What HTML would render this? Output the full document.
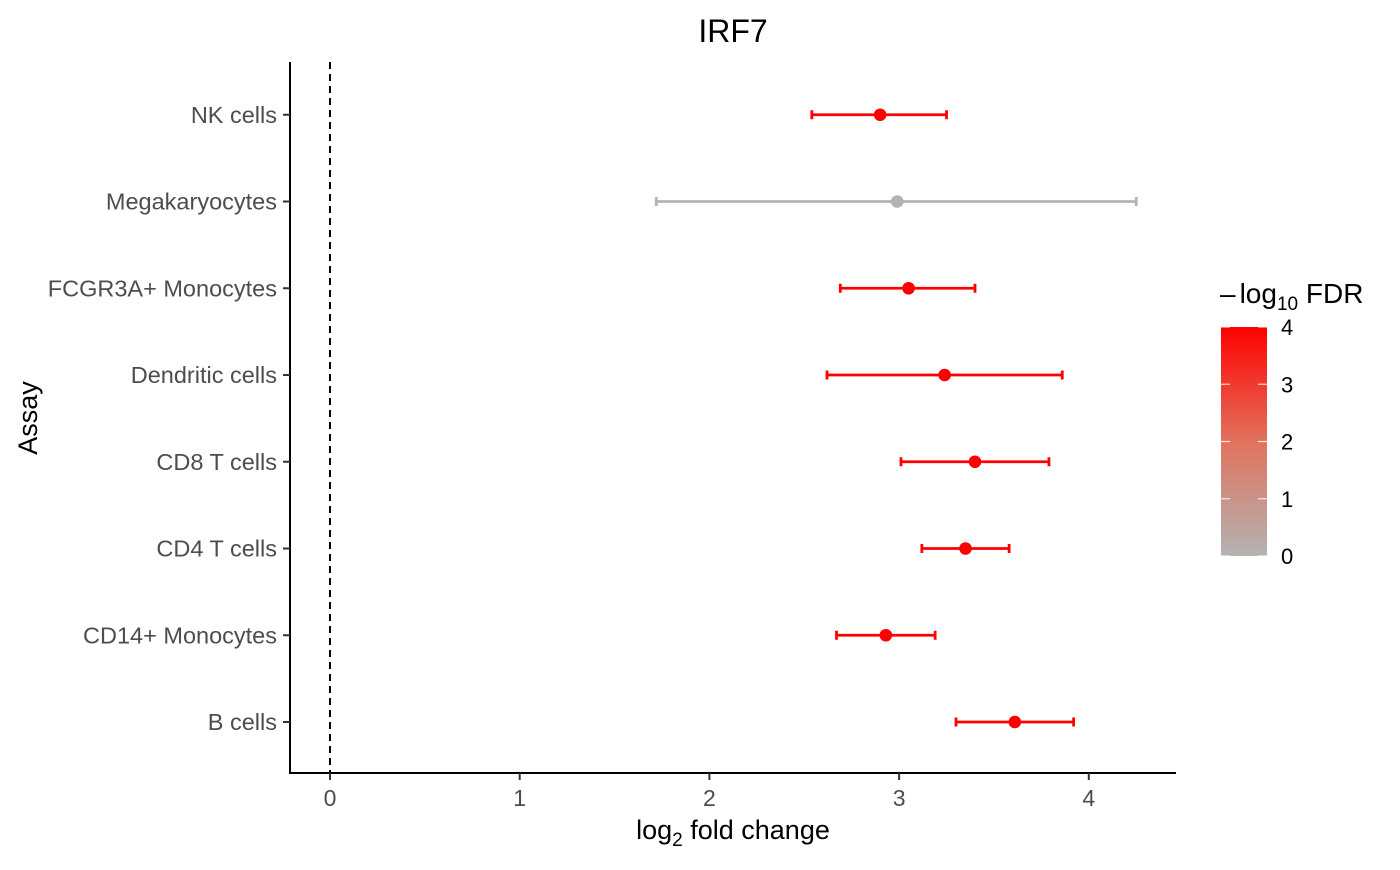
<!DOCTYPE html>
<html><head><meta charset="utf-8"><style>
body{margin:0;background:#fff;font-family:"Liberation Sans",Arial,sans-serif}
svg text{font-family:"Liberation Sans",Arial,sans-serif}
</style></head><body>
<svg id="c" width="1400" height="865" viewBox="0 0 1400 865">
<defs><linearGradient id="g" x1="0" y1="1" x2="0" y2="0">
<stop offset="0" stop-color="#b3b3b3"/><stop offset="0.5" stop-color="#e0735e"/><stop offset="1" stop-color="#ff0000"/></linearGradient></defs>
<text x="733" y="42" font-size="32" text-anchor="middle">IRF7</text>
<g id="plot"></g>
<text x="733" y="839" font-size="27" text-anchor="middle">log<tspan font-size="19" dy="7">2</tspan><tspan dy="-7"> fold change</tspan></text>
<text transform="translate(37,418) rotate(-90)" font-size="27" text-anchor="middle">Assay</text>
<g>
<text x="1220" y="303" font-size="28">–<tspan dx="4">log</tspan><tspan font-size="19" dy="7">10</tspan><tspan dy="-7"> FDR</tspan></text>
<rect x="1221" y="327" width="46" height="229" fill="url(#g)"/>
<g id="leg"></g>
</g>
</svg>
<script>
const categories=["B cells","CD14+ Monocytes","CD4 T cells","CD8 T cells","Dendritic cells","FCGR3A+ Monocytes","Megakaryocytes","NK cells"];
const estimates=[3.61,2.93,3.35,3.40,3.24,3.05,2.99,2.90];
const lower=[3.30,2.67,3.12,3.01,2.62,2.69,1.72,2.54];
const upper=[3.92,3.19,3.58,3.79,3.86,3.40,4.25,3.25];
const fdr=[4,4,4,4,4,4,0,4];
const xTicks=[0,1,2,3,4];
const legTicks=[0,1,2,3,4];
const NS="http://www.w3.org/2000/svg";
const X=v=>330+v*189.7;
const Y=i=>722-i*86.75;
const L=v=>556-v*57.25;
function col(f){const t=Math.max(0,Math.min(1,f/4));
const a=[179,179,179],m=[224,115,94],b=[255,0,0];let c;
if(t<0.5){const u=t/0.5;c=a.map((x,k)=>x+(m[k]-x)*u);}else{const u=(t-0.5)/0.5;c=m.map((x,k)=>x+(b[k]-x)*u);}
return `rgb(${c.map(Math.round).join(",")})`;}
function mk(p,tag,at,txt){const e=document.createElementNS(NS,tag);for(const k in at)e.setAttribute(k,at[k]);if(txt!=null)e.textContent=txt;p.appendChild(e);return e;}
const P=document.getElementById("plot");
let e=mk(P,"line",{x1:X(0),x2:X(0),y1:62,y2:773,stroke:"#000","stroke-width":2,"stroke-dasharray":"7,5"});


e=mk(P,"line",{x1:290,x2:290,y1:62,y2:774,stroke:"#000","stroke-width":2});


e=mk(P,"line",{x1:289,x2:1176,y1:773,y2:773,stroke:"#000","stroke-width":2});


xTicks.forEach(v=>{
 let t=mk(P,"line",{x1:X(v),x2:X(v),y1:773,y2:780,stroke:"#333","stroke-width":2});
 
 
 t=mk(P,"text",{x:X(v),y:806,"font-size":23,fill:"#4d4d4d","text-anchor":"middle"},String(v));
 
 
});
categories.forEach((c,i)=>{
 const y=Y(i),cl=col(fdr[i]);
 let t=mk(P,"line",{x1:283,x2:290,y1:y,y2:y,stroke:"#333","stroke-width":2});
 
 
 t=mk(P,"text",{x:277,y:y+8,"font-size":23.5,fill:"#4d4d4d","text-anchor":"end"},c);
 
 
 const g=mk(P,"g",{});
 
 
 mk(g,"line",{x1:X(lower[i]),x2:X(upper[i]),y1:y,y2:y,stroke:cl,"stroke-width":2.8});
 mk(g,"line",{x1:X(lower[i]),x2:X(lower[i]),y1:y-4.5,y2:y+4.5,stroke:cl,"stroke-width":2.8});
 mk(g,"line",{x1:X(upper[i]),x2:X(upper[i]),y1:y-4.5,y2:y+4.5,stroke:cl,"stroke-width":2.8});
 const p=mk(P,"circle",{cx:X(estimates[i]),cy:y,r:6.3,fill:cl});
 
 
});
const G=document.getElementById("leg");
legTicks.forEach(v=>{
 const y=L(v);
 let t=mk(G,"line",{x1:1221,x2:1230,y1:y,y2:y,stroke:"#fff","stroke-width":1.2,opacity:0.8});
 
 
 t=mk(G,"line",{x1:1258,x2:1267,y1:y,y2:y,stroke:"#fff","stroke-width":1.2,opacity:0.8});
 
 
 t=mk(G,"text",{x:1281,y:y+8,"font-size":22,fill:"#000"},String(v));
 
 
});
</script>
</body></html>
